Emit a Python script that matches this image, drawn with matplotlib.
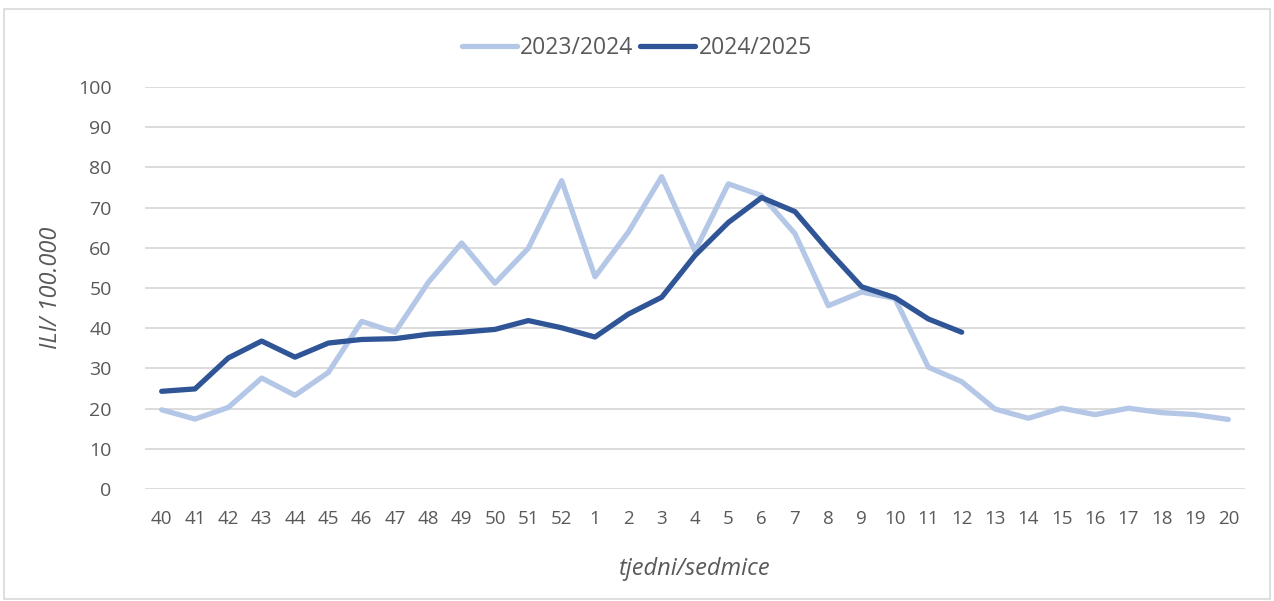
import matplotlib
matplotlib.use("Agg")
import matplotlib.pyplot as plt
from matplotlib.patches import Rectangle

weeks = ["40", "41", "42", "43", "44", "45", "46", "47", "48", "49", "50", "51", "52",
         "1", "2", "3", "4", "5", "6", "7", "8", "9", "10", "11", "12", "13", "14",
         "15", "16", "17", "18", "19", "20"]
season_2023_24 = [19.7, 17.4, 20.3, 27.6, 23.3, 29.0, 41.7, 39.0, 51.4, 61.2, 51.2,
                  59.9, 76.7, 52.8, 63.9, 77.7, 59.2, 75.9, 73.0, 63.5, 45.6, 49.0,
                  47.4, 30.3, 26.7, 19.9, 17.6, 20.1, 18.5, 20.1, 19.0, 18.5, 17.3]
season_2024_25 = [24.3, 24.9, 32.6, 36.8, 32.8, 36.3, 37.2, 37.4, 38.5, 39.0, 39.7,
                  41.9, 40.1, 37.8, 43.5, 47.7, 58.1, 66.3, 72.5, 69.0, 59.3, 50.3,
                  47.6, 42.3, 39.0]
y_ticks = [0, 10, 20, 30, 40, 50, 60, 70, 80, 90, 100]

light = "#B4C7E7"
dark = "#2F5597"
txt = "#595959"
font = ["Open Sans", "DejaVu Sans"]

fig = plt.figure(figsize=(12.74, 6.01), dpi=100)
fig.patches.append(Rectangle((4/1274, 2/601), 1266/1274, 590/601, transform=fig.transFigure,
                             fill=False, edgecolor="#D9D9D9", linewidth=1.2))
ax = fig.add_axes([145/1274, 1 - 489/601, 1100/1274, 402/601])

x1 = list(range(len(season_2023_24)))
x2 = list(range(len(season_2024_25)))
ax.plot(x1, season_2023_24, color=light, linewidth=3.8, solid_capstyle="round",
        solid_joinstyle="round", label="2023/2024", zorder=3)
ax.plot(x2, season_2024_25, color=dark, linewidth=3.8, solid_capstyle="round",
        solid_joinstyle="round", label="2024/2025", zorder=4)

ax.set_xlim(-0.5, len(weeks) - 0.5)
ax.set_ylim(0, 100)
ax.set_yticks(y_ticks)
ax.set_yticklabels([str(v) for v in y_ticks], fontsize=14, color=txt, family=font)
ax.set_xticks(range(len(weeks)))
ax.set_xticklabels(weeks, fontsize=13.5, color=txt, family=font)
ax.tick_params(axis="both", length=0)
ax.tick_params(axis="y", pad=24)
ax.tick_params(axis="x", pad=15)
ax.grid(axis="y", color="#D9D9D9", linewidth=1.3, zorder=0)
ax.set_axisbelow(True)
for s in ax.spines.values():
    s.set_visible(False)

ax.set_ylabel("ILI/ 100.000", fontsize=17, color=txt, style="italic", family=font, labelpad=11)
ax.set_xlabel("tjedni/sedmice", fontsize=17, color=txt, style="italic", family=font, labelpad=21)

leg = fig.legend(loc="center", bbox_to_anchor=(0.5, 1 - 48/601), ncol=2, frameon=False,
                 prop={"family": font, "size": 16.5}, handlelength=2.4, columnspacing=0.3,
                 handletextpad=0.15)
for t in leg.get_texts():
    t.set_color(txt)

fig.savefig("out.png", dpi=100)
